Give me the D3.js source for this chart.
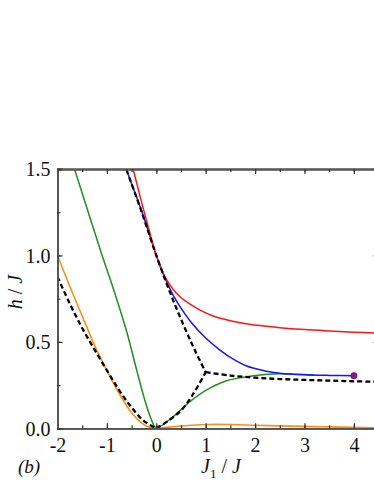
<!DOCTYPE html>
<html>
<head>
<meta charset="utf-8">
<script src="https://cdn.jsdelivr.net/npm/d3@7"></script>
</head>
<body style="margin:0">
<script>
// ---- data ----
const xMajorTicks = [-2, -1, 0, 1, 2, 3, 4];
const yMajorTicks = [0, 0.5, 1.0, 1.5];

const redCurve = [[-0.52,1.55],[-0.47,1.5],[-0.3,1.31],[-0.15,1.15],[0,1.0],[0.1,0.925],[0.21,0.858],[0.35,0.80],[0.48,0.761],[0.7,0.715],[0.885,0.684],[1.15,0.65],[1.36,0.632],[1.7,0.611],[2.1,0.594],[2.5,0.582],[3,0.571],[3.5,0.563],[4,0.556],[4.5,0.55]];
const blueCurve = [[-0.66,1.55],[-0.62,1.51],[-0.3,1.26],[0,1.0],[0.15,0.885],[0.34,0.771],[0.5,0.695],[0.7,0.615],[1.0,0.522],[1.29,0.452],[1.5,0.41],[1.83,0.36],[2.2,0.332],[2.5,0.319],[3.0,0.310],[3.5,0.306],[4.0,0.304]];
const greenCurve = [[-1.7,1.54],[-1.4,1.27],[-1.12,1.02],[-0.85,0.79],[-0.6,0.56],[-0.4,0.34],[-0.25,0.18],[-0.12,0.065],[-0.04,0.012],[0,0.0],[0.34,0.067],[0.68,0.154],[1.02,0.222],[1.42,0.275],[1.83,0.298],[2.2,0.311],[2.5,0.316],[2.8,0.313],[3.2,0.308]];
const orangeCurve = [[-2,1.0],[-1.75,0.82],[-1.5,0.65],[-1.25,0.48],[-1.0,0.335],[-0.75,0.2],[-0.5,0.09],[-0.3,0.032],[-0.15,0.007],[0,0],[0.25,0.007],[0.5,0.013],[1,0.022],[1.5,0.022],[2,0.018],[2.5,0.014],[3,0.011],[3.5,0.008],[4,0.006],[4.5,0.003]];
const dashUpper = [[-0.66,1.54],[-0.61,1.5],[-0.3,1.255],[0,1.0],[0.3,0.77],[0.6,0.565],[0.8,0.44],[1.0,0.325]];
const dashLower = [[0,0],[0.25,0.045],[0.51,0.106],[0.75,0.2],[1.0,0.325]];
const dashRight = [[1.0,0.325],[1.5,0.305],[2,0.293],[2.5,0.285],[3,0.28],[3.5,0.276],[4,0.272],[4.5,0.269]];
const dashLeft = [[-2,0.877],[-1.75,0.72],[-1.5,0.58],[-1.25,0.455],[-1.0,0.335],[-0.75,0.22],[-0.5,0.12],[-0.25,0.042],[0,0]];
const endPoint = [[4.0,0.304]];

// ---- layout ----
const W = 374, H = 484;
const FONT = '"Liberation Serif"';
const FS = 20;
const svg = d3.select("body").append("svg").attr("width", W).attr("height", H)
  .style("display", "block");

const x = d3.scaleLinear().domain([-2, 4.5]).range([57.5, 378.6]);
const y = d3.scaleLinear().domain([0, 1.5]).range([428.3, 169]);

const axisColor = "#555";

svg.append("clipPath").attr("id", "clip")
  .append("rect").attr("x", x(-2)).attr("y", y(1.5)).attr("width", x(4.5) - x(-2)).attr("height", y(0) - y(1.5));

const plot = svg.append("g").attr("clip-path", "url(#clip)");
const line = d3.line().x(d => x(d[0])).y(d => y(d[1])).curve(d3.curveCatmullRom.alpha(0.5));

function draw(data, color, w, dash) {
  const p = plot.append("path").datum(data).attr("d", line)
    .attr("fill", "none").attr("stroke", color).attr("stroke-width", w)
    .attr("stroke-linejoin", "round");
  if (dash) p.attr("stroke-dasharray", dash);
}

draw(greenCurve, "#1f8f1f", 1.5);
draw(orangeCurve, "#ff8c1a", 1.6);
draw(blueCurve, "#1414ff", 1.5);
draw(redCurve, "#ff1414", 1.5);
[dashUpper, dashLower, dashRight, dashLeft].forEach(d => draw(d, "#000", 2.3, "5,3"));

plot.selectAll("circle.end").data(endPoint).enter().append("circle")
  .attr("cx", d => x(d[0])).attr("cy", d => y(d[1])).attr("r", 3.2)
  .attr("fill", "#8a1a8a").attr("stroke", "#6a006a").attr("stroke-width", 0.6);

// ---- axes ----
const xMinor = d3.range(-2, 4.51, 0.5);
const yMinor = d3.range(0, 1.51, 0.25);
const intFmt = d => String(d);   // plain hyphen-minus as in the reference

const axB = svg.append("g").attr("transform", `translate(0,${y(0)})`)
  .call(d3.axisBottom(x).tickValues(xMajorTicks).tickSize(-5).tickPadding(9).tickFormat(intFmt));
const axBm = svg.append("g").attr("transform", `translate(0,${y(0)})`)
  .call(d3.axisBottom(x).tickValues(xMinor).tickSize(-3).tickFormat(""));
const axT = svg.append("g").attr("transform", `translate(0,${y(1.5)})`)
  .call(d3.axisTop(x).tickValues(xMajorTicks).tickSize(-5).tickFormat(""));
const axTm = svg.append("g").attr("transform", `translate(0,${y(1.5)})`)
  .call(d3.axisTop(x).tickValues(xMinor).tickSize(-3).tickFormat(""));
const axL = svg.append("g").attr("transform", `translate(${x(-2)},0)`)
  .call(d3.axisLeft(y).tickValues(yMajorTicks).tickSize(-5).tickPadding(7).tickFormat(d3.format(".1f")));
const axLm = svg.append("g").attr("transform", `translate(${x(-2)},0)`)
  .call(d3.axisLeft(y).tickValues(yMinor).tickSize(-3).tickFormat(""));
const axR = svg.append("g").attr("transform", `translate(${x(4.5)},0)`)
  .call(d3.axisRight(y).tickValues(yMajorTicks).tickSize(-5).tickFormat(""));

[axB, axBm, axT, axTm, axL, axLm, axR].forEach(g => {
  g.attr("font-family", null).attr("font-size", null);
  g.select(".domain").attr("stroke", axisColor).attr("stroke-width", 1.8);
  g.selectAll(".tick line").attr("stroke", "#333").attr("stroke-width", 1.2);
  g.selectAll("text").attr("font-family", FONT).attr("font-size", FS).attr("fill", "#111");
});
axB.selectAll("text").attr("dy", "0.72em");
axL.selectAll("text").attr("dy", "0.34em");

// ---- labels ----
const yl = svg.append("text").attr("transform", "translate(22,292) rotate(-90)")
  .attr("text-anchor", "middle").attr("font-size", FS).attr("font-family", FONT).attr("fill", "#111");
yl.append("tspan").attr("font-style", "italic").text("h");
yl.append("tspan").text(" / ");
yl.append("tspan").attr("font-style", "italic").text("J");

const xl = svg.append("text").attr("x", 221).attr("y", 473).attr("text-anchor", "middle").attr("font-size", FS).attr("font-family", FONT).attr("fill", "#111");
xl.append("tspan").attr("font-style", "italic").text("J");
xl.append("tspan").attr("font-size", 13).attr("dy", 5).text("1");
xl.append("tspan").attr("dy", -5).text(" / ");
xl.append("tspan").attr("font-style", "italic").text("J");

svg.append("text").attr("x", 18).attr("y", 473).attr("font-size", 19).attr("font-style", "italic").attr("font-family", FONT).attr("fill", "#111").text("(b)");
</script>
</body>
</html>
